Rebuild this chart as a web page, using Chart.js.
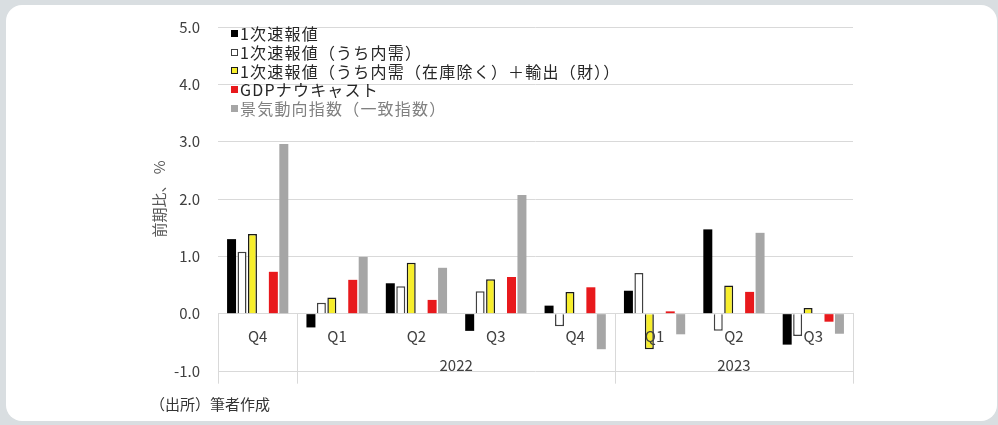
<!DOCTYPE html>
<html lang="ja">
<head>
<meta charset="utf-8">
<title>GDP 1次速報値と各指標</title>
<script src="https://cdn.jsdelivr.net/npm/chart.js@4.4.1/dist/chart.umd.min.js"></script>
<style>
  html, body { margin: 0; padding: 0; }
  body {
    width: 998px; height: 425px; position: relative; overflow: hidden;
    background: #d9dee1;
    font-family: "Noto Sans CJK JP", "Noto Sans", sans-serif;
  }
  .card {
    position: absolute; left: 6px; top: 5px; width: 991px; height: 416px;
    background: #fff; border-radius: 16px;
  }
  #chart-wrap { position: absolute; left: 0; top: 0; width: 998px; height: 425px; }
  #legend {
    position: absolute; left: 231px; top: 24px; margin: 0; padding: 0;
    list-style: none; font-size: 16px; line-height: 18.8px; letter-spacing: 1.2px;
  }
  #legend li { display: flex; align-items: center; white-space: nowrap; }
  #legend .box { width: 7px; height: 7px; box-sizing: border-box; margin-right: 2px; }
  .note { position: absolute; left: 150px; top: 394px; font-size: 15px; line-height: 20px; color: #333; }
</style>
</head>
<body>
<div class="card"></div>
<div id="chart-wrap"><canvas id="gdpChart" width="998" height="425"></canvas></div>
<ul id="legend"></ul>
<div class="note">（出所）筆者作成</div>

<script>
// 四半期（2021Q4〜2023Q3）
const quarters = ['Q4', 'Q1', 'Q2', 'Q3', 'Q4', 'Q1', 'Q2', 'Q3'];
// 年ラベルと、その年に含まれる四半期の範囲（quarters の添字）
const yearLabels = ['2022', '2023'];
const yearFirstQuarter = [1, 5];
const yearLastQuarter = [4, 7];

// 前期比、%
const prelim = [1.30, -0.24, 0.53, -0.30, 0.14, 0.40, 1.47, -0.54];
const domestic = [1.08, 0.19, 0.48, 0.39, -0.22, 0.71, -0.30, -0.39];
const domesticExInvPlusExports = [1.39, 0.28, 0.89, 0.60, 0.38, -0.62, 0.49, 0.10];
const nowcast = [0.73, 0.59, 0.24, 0.64, 0.46, 0.04, 0.38, -0.14];
const ciIndex = [2.96, 0.99, 0.80, 2.07, -0.62, -0.36, 1.41, -0.35];

const yMin = -1;
const yMax = 5;

// x軸の下に年の区切り線と年ラベルを描く
const yearAxis = {
    id: 'yearAxis',
    afterDatasetsDraw(chart) {
        const { ctx, chartArea, scales: { x, y } } = chart;
        const zero = y.getPixelForValue(0);
        const half = (x.getPixelForValue(1) - x.getPixelForValue(0)) / 2;
        const edges = [chartArea.left, chartArea.right]
            .concat(yearFirstQuarter.map(i => x.getPixelForValue(i) - half));

        ctx.save();
        ctx.strokeStyle = '#d9d9d9';
        ctx.lineWidth = 1;
        edges.forEach(px => {
            const xx = Math.round(px) + 0.5;
            ctx.beginPath();
            ctx.moveTo(xx, zero);
            ctx.lineTo(xx, zero + 70);
            ctx.stroke();
        });

        ctx.fillStyle = '#404040';
        ctx.font = '15px "Noto Sans CJK JP", "Noto Sans", sans-serif';
        ctx.textAlign = 'center';
        ctx.textBaseline = 'middle';
        yearLabels.forEach((label, k) => {
            const cx = (x.getPixelForValue(yearFirstQuarter[k]) + x.getPixelForValue(yearLastQuarter[k])) / 2;
            ctx.fillText(label, cx, zero + 52);
        });
        ctx.restore();
    }
};

const chart = new Chart(document.getElementById('gdpChart'), {
    type: 'bar',
    data: {
        labels: quarters,
        datasets: [
            { label: '1次速報値', data: prelim, backgroundColor: '#000000', borderColor: '#000000', borderWidth: 0, legendColor: '#262626' },
            { label: '1次速報値（うち内需）', data: domestic, backgroundColor: '#ffffff', borderColor: '#404040', borderWidth: 1.5, legendColor: '#262626' },
            { label: '1次速報値（うち内需（在庫除く）＋輸出（財））', data: domesticExInvPlusExports, backgroundColor: '#f7ee2c', borderColor: '#1a1a1a', borderWidth: 1.5, legendColor: '#262626' },
            // 間隔用の空系列
            { label: '', data: [], backgroundColor: 'transparent', borderWidth: 0 },
            { label: 'GDPナウキャスト', data: nowcast, backgroundColor: '#e8191c', borderColor: '#e8191c', borderWidth: 0, legendColor: '#262626' },
            { label: '景気動向指数（一致指数）', data: ciIndex, backgroundColor: '#a6a6a6', borderColor: '#a6a6a6', borderWidth: 0, legendColor: '#808080' }
        ]
    },
    options: {
        responsive: false,
        animation: false,
        events: [],
        layout: { padding: { left: 0, right: 145, top: 24, bottom: 54 } },
        datasets: {
            bar: { categoryPercentage: 0.79, barPercentage: 0.86, borderSkipped: 'start' }
        },
        scales: {
            x: {
                position: { y: 0 },
                grid: { display: false, drawTicks: false },
                border: { display: true, color: '#d9d9d9', width: 1 },
                ticks: {
                    z: 1,
                    padding: 14,
                    color: '#404040',
                    font: { family: '"Noto Sans CJK JP", "Noto Sans", sans-serif', size: 15 },
                    maxRotation: 0,
                    autoSkip: false
                }
            },
            y: {
                min: yMin,
                max: yMax,
                grid: { color: '#d9d9d9', drawTicks: false },
                border: { display: false },
                ticks: {
                    stepSize: 1,
                    padding: 18,
                    color: '#404040',
                    font: { family: '"Noto Sans CJK JP", "Noto Sans", sans-serif', size: 15 },
                    callback: v => v.toFixed(1)
                },
                title: {
                    display: true,
                    text: '前期比、 %',
                    color: '#595959',
                    font: { family: '"Noto Sans CJK JP", "Noto Sans", sans-serif', size: 15 },
                    padding: { top: 150 }
                },
                afterFit(scale) { scale.width = 218; }
            }
        },
        plugins: {
            legend: { display: false },
            tooltip: { enabled: false }
        }
    },
    plugins: [yearAxis]
});

// 凡例（空系列は除く）
const legendList = document.getElementById('legend');
chart.data.datasets.filter(ds => ds.label).forEach(ds => {
    const li = document.createElement('li');
    const box = document.createElement('span');
    box.className = 'box';
    box.style.background = ds.backgroundColor;
    box.style.border = ds.borderWidth ? `1px solid ${ds.borderColor}` : 'none';
    const text = document.createElement('span');
    text.textContent = ds.label;
    text.style.color = ds.legendColor;
    li.appendChild(box);
    li.appendChild(text);
    legendList.appendChild(li);
});
</script>
</body>
</html>
